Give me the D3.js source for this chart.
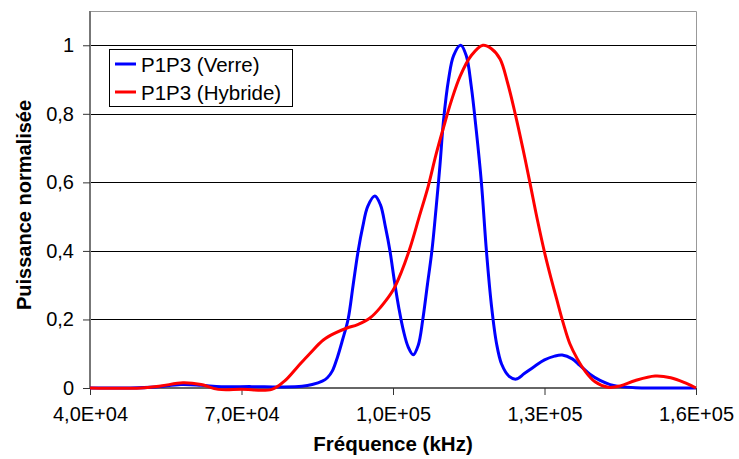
<!DOCTYPE html>
<html><head><meta charset="utf-8">
<script src="https://cdn.jsdelivr.net/npm/d3@7"></script>
<style>body{margin:0;background:#fff}svg{display:block}text{font-family:"Liberation Sans",Arial,sans-serif}</style>
</head><body><svg id="c" width="739" height="459"></svg>
<script>
const xTicks = [40000, 70000, 100000, 130000, 160000];
const xTickLabels = ["4,0E+04", "7,0E+04", "1,0E+05", "1,3E+05", "1,6E+05"];
const yTicks = [0, 0.2, 0.4, 0.6, 0.8, 1];
const yTickLabels = ["0", "0,2", "0,4", "0,6", "0,8", "1"];
const seriesNames = ["P1P3 (Verre)", "P1P3 (Hybride)"];
const seriesColors = ["#0000FF", "#FF0000"];

// frequency in kHz (x1000 on axis)
const freqVerre = [40,48,53,58,62,66,72,78,82,84,86,87,88,89,90,91.1,92.1,93.1,94,95,96.4,97.5,98.5,99.4,100.3,101.2,102.1,103,104,105,105.9,106.8,107.7,108.5,109.3,110,111,112,113.4,114.5,115.5,116.5,117.5,118.5,119.5,120.5,121.5,123,124.4,126,128,130,132,133.5,135.5,137,139,141,143,145,148,160];
const powerVerre = [0,0,0.003,0.01,0.008,0.004,0.004,0.003,0.005,0.01,0.02,0.03,0.05,0.09,0.14,0.2,0.3,0.4,0.47,0.53,0.56,0.535,0.47,0.4,0.31,0.23,0.165,0.12,0.097,0.125,0.2,0.3,0.4,0.52,0.65,0.78,0.9,0.97,1.0,0.97,0.88,0.75,0.6,0.4,0.24,0.13,0.07,0.034,0.026,0.042,0.063,0.082,0.093,0.096,0.085,0.066,0.04,0.022,0.01,0.004,0.001,0];

const freqHybride = [40,50,54,58.4,62,65.4,70,76,78.5,81,83.5,86.2,88.5,90.9,93,95.5,97.5,100,101.7,103.4,105.2,107,108.5,110,111.6,113.3,115.5,117.8,119.5,121.2,122.7,124.2,125.7,127.1,128.6,130.1,131.3,132.4,133.7,135,136.5,138,140,142.6,145,148,151.9,155,158,160];
const powerHybride = [0,0,0.006,0.015,0.01,-0.004,-0.004,-0.004,0.02,0.06,0.1,0.14,0.16,0.175,0.185,0.205,0.235,0.285,0.34,0.41,0.5,0.59,0.68,0.76,0.84,0.91,0.97,1.0,0.99,0.96,0.89,0.8,0.7,0.6,0.49,0.39,0.32,0.26,0.19,0.13,0.085,0.05,0.018,0.002,0.006,0.022,0.035,0.03,0.014,0];

const FONT = '"Liberation Sans",Arial,sans-serif';
const svg = d3.select("#c");
const L = 90, R = 696, T = 11, B = 388;
const x = d3.scaleLinear().domain([40000, 160000]).range([L, R]);
const y = d3.scaleLinear().domain([0, 1.1]).range([B, T]);

// gridlines
svg.append("g").selectAll("line").data(yTicks.filter(d => d > 0)).join("line")
  .attr("x1", L).attr("x2", R).attr("y1", d => Math.round(y(d)) + 0.5).attr("y2", d => Math.round(y(d)) + 0.5)
  .attr("stroke", "#000").attr("stroke-width", 1);
// plot border top/right
svg.append("path").attr("d", `M${L},${T+0.5}H${R+0.5}V${B}`).attr("fill", "none").attr("stroke", "#999").attr("stroke-width", 1);

// y axis
const yAxis = d3.axisLeft(y).tickValues(yTicks).tickSize(7).tickPadding(9)
  .tickFormat((d, i) => yTickLabels[i]);
const gy = svg.append("g").attr("transform", `translate(${L},0)`).call(yAxis);
gy.select(".domain").attr("stroke", "#777").attr("stroke-width", 2).attr("d", `M0,${T}V${B+1}`);
gy.selectAll(".tick line").attr("stroke", "#333");
gy.selectAll("text").attr("font-size", 20).attr("fill", "#000").style("font-family", FONT);

// x axis
const xAxis = d3.axisBottom(x).tickValues(xTicks).tickSize(7).tickPadding(12)
  .tickFormat((d, i) => xTickLabels[i]);
const gx = svg.append("g").attr("transform", `translate(0,${B})`).call(xAxis);
gx.select(".domain").attr("stroke", "#333").attr("stroke-width", 1.5).attr("d", `M${L},0H${R}`);
gx.selectAll(".tick line").attr("stroke", "#333");
gx.selectAll("text").attr("font-size", 20).attr("fill", "#000").style("font-family", FONT);

// lines
const line = d3.line().x(d => x(d[0] * 1000)).y(d => y(d[1])).curve(d3.curveCatmullRom.alpha(0.5));
const dataV = freqVerre.map((f, i) => [f, powerVerre[i]]);
const dataH = freqHybride.map((f, i) => [f, powerHybride[i]]);
[dataV, dataH].forEach((d, i) => {
  svg.append("path").attr("d", line(d)).attr("fill", "none")
    .attr("stroke", seriesColors[i]).attr("stroke-width", 3).attr("stroke-linejoin", "round");
});

// axis titles
svg.append("text").attr("x", 393).attr("y", 451).attr("text-anchor", "middle")
  .attr("font-size", 20.5).attr("font-weight", "bold").text("Fréquence (kHz)");
svg.append("text").attr("transform", "translate(31,205) rotate(-90)").attr("text-anchor", "middle")
  .attr("font-size", 20).attr("font-weight", "bold").text("Puissance normalisée");

// legend
const lg = svg.append("g");
lg.append("rect").attr("x", 109.5).attr("y", 49.5).attr("width", 183).attr("height", 57)
  .attr("fill", "#fff").attr("stroke", "#000").attr("stroke-width", 1);
seriesNames.forEach((n, i) => {
  const yy = 64 + i * 28;
  lg.append("line").attr("x1", 115).attr("x2", 136).attr("y1", yy).attr("y2", yy)
    .attr("stroke", seriesColors[i]).attr("stroke-width", 3);
  lg.append("text").attr("x", 141).attr("y", yy + 7.5).attr("font-size", 20.5).text(n);
});
</script></body></html>
